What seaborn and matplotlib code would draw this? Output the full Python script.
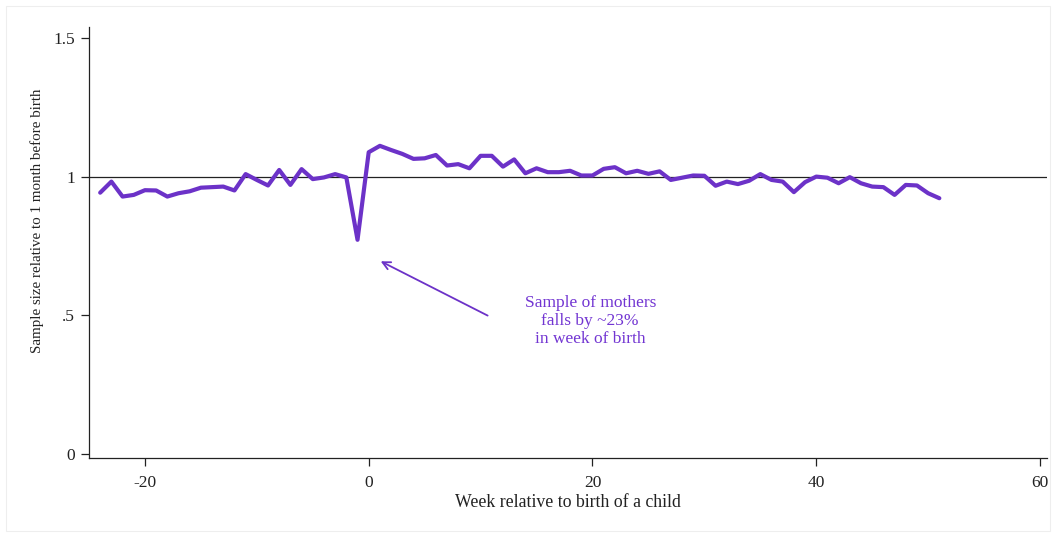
import matplotlib
matplotlib.use("Agg")
import matplotlib.pyplot as plt
import seaborn as sns
import pandas as pd
from matplotlib.patches import Rectangle

weeks = list(range(-24, 52))
ratio = [0.943, 0.983, 0.929, 0.935, 0.952, 0.951, 0.929, 0.941, 0.948, 0.961,
         0.963, 0.965, 0.951, 1.010, 0.989, 0.969, 1.025, 0.971, 1.028, 0.992,
         0.998, 1.010, 0.998, 0.773, 1.089, 1.112, 1.097, 1.083, 1.065, 1.067,
         1.079, 1.041, 1.046, 1.031, 1.076, 1.076, 1.037, 1.063, 1.013, 1.031,
         1.017, 1.017, 1.022, 1.005, 1.005, 1.029, 1.035, 1.013, 1.022, 1.011,
         1.020, 0.989, 0.997, 1.005, 1.004, 0.968, 0.983, 0.974, 0.986, 1.010,
         0.989, 0.983, 0.945, 0.981, 1.001, 0.997, 0.977, 0.999, 0.977, 0.965,
         0.963, 0.935, 0.971, 0.969, 0.941, 0.923]

xticks = [-20, 0, 20, 40, 60]
yticks = [0, 0.5, 1, 1.5]
ytick_labels = ["0", ".5", "1", "1.5"]
annot_text = "Sample of mothers\nfalls by ~23%\nin week of birth"

sns.set_theme(style="ticks")
plt.rcParams["font.family"] = ["Liberation Serif", "DejaVu Serif"]

LINE = "#6C32C8"
TEXT = "#7235D2"

fig = plt.figure(figsize=(10.52, 5.34), dpi=100)
fig.patches.append(Rectangle((0.006, 0.006), 0.992, 0.982, transform=fig.transFigure,
                             fill=False, edgecolor="#eeeeee", linewidth=0.8, zorder=-5))
ax = fig.add_axes([0.0846, 0.142, 0.9104, 0.807])

df = pd.DataFrame({"week": weeks, "ratio": ratio})
ax.axhline(1, color="#222222", linewidth=0.9, zorder=1)
sns.lineplot(data=df, x="week", y="ratio", ax=ax, color=LINE, linewidth=3.0, zorder=2)

ax.annotate("", xy=(0.85, 0.70), xytext=(10.85, 0.495),
            arrowprops=dict(arrowstyle="->", color=LINE, lw=1.3,
                            mutation_scale=14))
ax.text(19.8, 0.48, annot_text, color=TEXT, fontsize=12.5, ha="center", va="center",
        linespacing=1.15)

ax.set_xlim(-25, 60.6)
ax.set_ylim(-0.015, 1.54)
ax.set_xticks(xticks)
ax.set_xticklabels([str(t) for t in xticks])
ax.set_yticks(yticks)
ax.set_yticklabels(ytick_labels)
ax.set_xlabel("Week relative to birth of a child", fontsize=12.8, labelpad=2)
ax.set_ylabel("")
fig.text(37.5 / 1052, 1 - 221 / 534, "Sample size relative to 1 month before birth",
         rotation=90, ha="center", va="center", fontsize=10.8, color="#222222")
ax.tick_params(axis="both", labelsize=12.5, length=6, width=0.9, color="#222222",
               direction="out", labelcolor="#222222")
ax.tick_params(axis="x", pad=6)
ax.tick_params(axis="y", pad=4)
for s in ["top", "right"]:
    ax.spines[s].set_visible(False)
for s in ["left", "bottom"]:
    ax.spines[s].set_color("#222222")
    ax.spines[s].set_linewidth(0.9)
ax.xaxis.label.set_color("#222222")

fig.savefig("out.png", dpi=100)
